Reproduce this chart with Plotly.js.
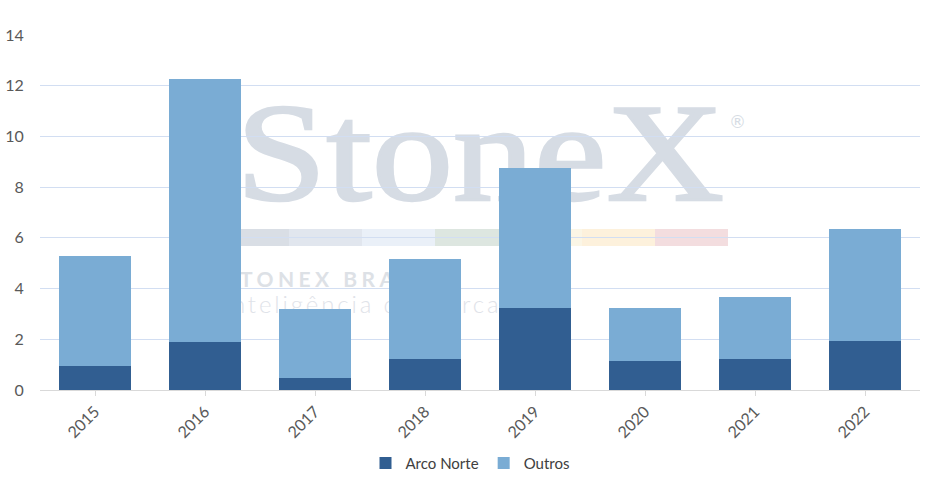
<!DOCTYPE html>
<html>
<head>
<meta charset="utf-8">
<script src="https://cdn.plot.ly/plotly-3.0.1.min.js"></script>
<style>
  body { margin: 0; background: #fff; }
  #wrap { position: relative; width: 940px; height: 486px; }
  #mark { position: absolute; left: 0; top: 0; z-index: 0; }
  #mainPlot { position: absolute; left: 0; top: 0; z-index: 1; width: 940px; height: 486px; }
</style>
</head>
<body>
<div id="wrap">
  <!-- watermark sits behind the transparent plot -->
  <svg id="mark" width="940" height="486">
    <text x="236" y="200" font-family="Liberation Serif" font-size="140" fill="#d6dce4"
          stroke="#d6dce4" stroke-width="2.5"
          textLength="488" lengthAdjust="spacingAndGlyphs">StoneX</text>
    <text x="729" y="128" font-family="DejaVu Sans" font-size="17" fill="#d6dce4">®</text>
    <rect x="216" y="229" width="73" height="17" fill="#d9dee5"/>
    <rect x="289" y="229" width="73" height="17" fill="#e1e6ee"/>
    <rect x="362" y="229" width="73" height="17" fill="#eaf0f8"/>
    <rect x="435" y="229" width="73" height="17" fill="#dde6e0"/>
    <rect x="508" y="229" width="74" height="17" fill="#fbf6e6"/>
    <rect x="582" y="229" width="73" height="17" fill="#fdf1dc"/>
    <rect x="655" y="229" width="73" height="17" fill="#f3dddf"/>
    <text x="224" y="287" font-family="Lato" font-weight="bold" font-size="21" fill="#dde1e6"
          textLength="212" lengthAdjust="spacing">STONEX BRASIL</text>
    <text x="223" y="313" font-family="Lato" font-weight="300" font-size="24" fill="#dfe3e9"
          textLength="308" lengthAdjust="spacing">Inteligência de mercado</text>
  </svg>
  <div id="mainPlot"></div>
</div>
<script>
MAINPLOT = document.getElementById('mainPlot');

// values
let years = ['2015', '2016', '2017', '2018', '2019', '2020', '2021', '2022'];
let arcoNorte = [0.96, 1.88, 0.49, 1.23, 3.22, 1.16, 1.23, 1.94];
let outros = [4.32, 10.37, 2.70, 3.94, 5.52, 2.06, 2.42, 4.41];
let yTicks = [0, 2, 4, 6, 8, 10, 12, 14];

var arco = {
    x: years,
    y: arcoNorte,
    type: 'bar',
    name: 'Arco Norte',
    marker: { color: '#315e91' }
};

var outrosTrace = {
    x: years,
    y: outros,
    type: 'bar',
    name: 'Outros',
    marker: { color: '#7aacd4' }
};

var layout = {
    width: 940,
    height: 486,
    barmode: 'stack',
    bargap: 0.34,
    paper_bgcolor: 'rgba(0,0,0,0)',
    plot_bgcolor: 'rgba(0,0,0,0)',
    margin: { l: 40, r: 20, t: 35, b: 96 },
    font: { family: 'Lato, sans-serif', size: 16, color: '#595959' },
    xaxis: {
        type: 'category',
        tickangle: -45,
        showline: true,
        linecolor: '#d9d9d9',
        linewidth: 1,
        ticks: 'outside',
        ticklen: 5,
        tickcolor: '#d9d9d9',
        showgrid: false,
        automargin: false,
        tickfont: { size: 16, color: '#595959' }
    },
    yaxis: {
        range: [0, 14],
        tickvals: yTicks,
        gridcolor: '#d2def2',
        gridwidth: 1,
        zeroline: false,
        automargin: false,
        ticks: 'outside',
        ticklen: 12,
        tickcolor: 'rgba(0,0,0,0)',
        tickfont: { size: 16, color: '#595959' }
    },
    showlegend: true,
    legend: {
        orientation: 'h',
        traceorder: 'normal',
        x: 0.5,
        xanchor: 'center',
        xref: 'container',
        y: 0.047,
        yref: 'container',
        yanchor: 'middle',
        font: { size: 15, color: '#404040' },
        itemwidth: 30
    }
};

var data = [arco, outrosTrace];

Plotly.newPlot(MAINPLOT, data, layout, { displayModeBar: false });
</script>
</body>
</html>
